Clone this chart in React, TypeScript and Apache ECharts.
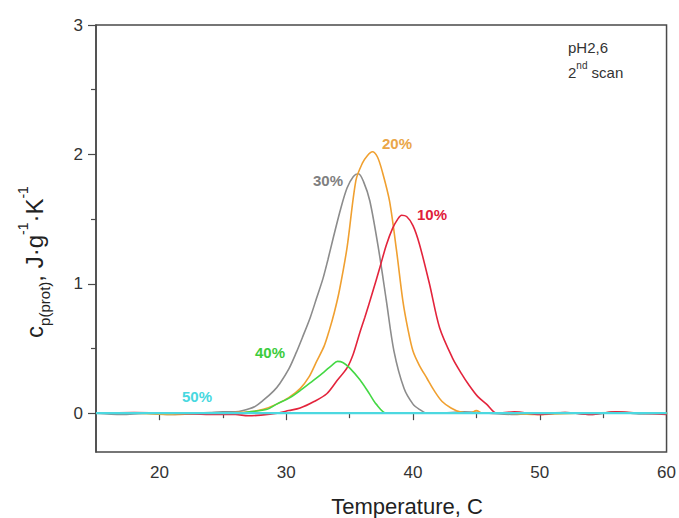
import React, { useEffect, useRef } from "react";
import * as echarts from "echarts";

const xMajorTicks = [20, 30, 40, 50, 60];
const xMinorTicks = [25, 35, 45, 55];
const yMajorTicks = [0, 1, 2, 3];
const yMinorTicks = [0.5, 1.5, 2.5];

const grayT = [15, 17, 19, 21, 23, 24, 25, 26, 26.6, 27.5, 28.2, 29, 29.5, 30.2, 30.8, 31.3, 31.9, 32.4, 32.9, 33.3, 33.7, 34.3, 34.8, 35.3, 35.7, 36.1, 36.6, 37.3, 37.9, 38.5, 39.3, 40, 40.5, 41.1, 42, 44, 46, 48, 50, 52, 54, 56, 58, 60];
const grayCp = [0, -0.01, 0, -0.01, 0, 0.005, 0.01, 0.01, 0.02, 0.05, 0.1, 0.17, 0.23, 0.34, 0.47, 0.59, 0.74, 0.89, 1.04, 1.19, 1.35, 1.58, 1.74, 1.83, 1.85, 1.79, 1.64, 1.26, 0.87, 0.48, 0.19, 0.07, 0.03, 0.0, 0, 0.01, 0, -0.01, 0, 0.005, -0.01, 0.01, -0.005, 0];

const orangeT = [15, 18, 21, 24, 25, 26, 27.1, 28.2, 29.25, 30.2, 31.1, 31.8, 32.4, 33.0, 33.4, 33.8, 34.2, 34.8, 35.5, 36.0, 36.4, 36.8, 37.2, 37.6, 38.15, 38.7, 39.2, 39.6, 40, 40.5, 41.1, 41.7, 42.3, 43, 43.7, 44.5, 45, 45.5, 47, 50, 53, 56, 60];
const orangeCp = [0, 0, -0.01, 0, 0, 0.005, 0.01, 0.03, 0.07, 0.12, 0.19, 0.28, 0.4, 0.52, 0.64, 0.78, 0.95, 1.28, 1.8, 1.93, 1.99, 2.02, 1.98, 1.86, 1.64, 1.26, 0.87, 0.65, 0.48, 0.37, 0.27, 0.17, 0.09, 0.04, 0.01, 0, 0.02, 0, 0, -0.01, 0, 0.005, 0];

const redT = [15, 18, 21, 24, 26, 27, 28, 29.3, 30.2, 31.1, 32.2, 33.2, 34, 34.8, 35.3, 35.8, 36.2, 36.8, 37.4, 37.9, 38.4, 38.8, 39.1, 39.5, 40, 40.5, 41.3, 42.1, 43.1, 43.8, 44.4, 45.1, 45.8, 46.6, 48, 50, 52, 54, 56, 58, 60];
const redCp = [0, 0.005, 0, -0.01, -0.01, -0.02, -0.015, 0, 0.02, 0.04, 0.09, 0.15, 0.25, 0.35, 0.46, 0.62, 0.74, 0.93, 1.13, 1.3, 1.43, 1.5, 1.53, 1.52, 1.45, 1.31, 1.0, 0.66, 0.43, 0.31, 0.22, 0.13, 0.07, 0, 0.01, -0.01, 0.005, -0.01, 0.01, 0, -0.01];

const greenT = [15, 18, 21, 24, 26.3, 27.1, 28.5, 29.25, 30.3, 31.05, 32.1, 33, 33.6, 34.05, 34.5, 35, 35.8, 36.5, 37.1, 37.9, 40, 45, 50, 55, 60];
const greenCp = [0, 0, 0, 0, 0, 0.01, 0.03, 0.07, 0.12, 0.17, 0.25, 0.32, 0.37, 0.4, 0.39, 0.35, 0.26, 0.16, 0.07, 0, 0, 0, 0, 0, 0];

const cyanT = [15, 60];
const cyanCp = [0, 0];

const seriesNames = ["10%", "20%", "30%", "40%", "50%"];

const pair = (t: number[], v: number[]) => t.map((x, i) => [x, v[i]]);

export default function App() {
  const ref = useRef<HTMLDivElement>(null);
  useEffect(() => {
    if (!ref.current) return;
    const chart = echarts.init(ref.current, undefined, { renderer: "svg" });
    const axisColor = "#4a4a4a";
    const font = "Liberation Sans, Arial, sans-serif";
    const mkLine = (name: string, data: number[][], color: string, width: number) => ({
      name,
      type: "line",
      data,
      showSymbol: false,
      smooth: 0.3,
      lineStyle: { color, width },
      itemStyle: { color },
      xAxisIndex: 0,
      yAxisIndex: 0,
    });
    const label = (text: string, x: number, y: number, color: string) => ({
      type: "text",
      x,
      y,
      style: { text, fill: color, font: `bold 15px ${font}`, align: "center", verticalAlign: "middle" },
    });
    chart.setOption({
      animation: false,
      backgroundColor: "#ffffff",
      grid: { left: 96, right: 11, top: 25, bottom: 66, show: true, borderColor: axisColor, borderWidth: 1.5, backgroundColor: "transparent" },
      xAxis: [
        {
          type: "value", min: 15, max: 60,
          axisLine: { show: true, lineStyle: { color: axisColor, width: 1.5 } },
          axisTick: { show: true, length: 7, customValues: xMajorTicks, lineStyle: { color: axisColor, width: 1.2 } },
          axisLabel: { customValues: xMajorTicks, color: "#333", fontSize: 17, fontFamily: font, margin: 12 },
          splitLine: { show: false },
        },
        {
          type: "value", min: 15, max: 60, position: "bottom",
          axisLine: { show: false },
          axisTick: { show: true, length: 5, customValues: xMinorTicks, lineStyle: { color: axisColor, width: 1.2 } },
          axisLabel: { show: false },
          splitLine: { show: false },
        },
      ],
      yAxis: [
        {
          type: "value", min: -0.3, max: 3,
          axisLine: { show: true, lineStyle: { color: axisColor, width: 1.5 } },
          axisTick: { show: true, length: 8, customValues: yMajorTicks, lineStyle: { color: axisColor, width: 1.2 } },
          axisLabel: { customValues: yMajorTicks, color: "#333", fontSize: 17, fontFamily: font, margin: 13 },
          splitLine: { show: false },
        },
        {
          type: "value", min: -0.3, max: 3, position: "left",
          axisLine: { show: false },
          axisTick: { show: true, length: 5, customValues: yMinorTicks, lineStyle: { color: axisColor, width: 1.2 } },
          axisLabel: { show: false },
          splitLine: { show: false },
        },
      ],
      series: [
        mkLine(seriesNames[2], pair(grayT, grayCp), "#8c8c8c", 1.6),
        mkLine(seriesNames[1], pair(orangeT, orangeCp), "#f0a030", 1.6),
        mkLine(seriesNames[0], pair(redT, redCp), "#e3243c", 1.6),
        mkLine(seriesNames[3], pair(greenT, greenCp), "#44d844", 1.6),
        mkLine(seriesNames[4], pair(cyanT, cyanCp), "#4cd8e0", 2.2),
      ],
      graphic: [
        label("30%", 328, 180, "#7f7f7f"),
        label("20%", 397, 143, "#eaa648"),
        label("10%", 432, 214, "#e0203a"),
        label("40%", 270, 352, "#3ccc3c"),
        label("50%", 197, 396, "#48d8e0"),
        {
          type: "text", x: 568, y: 40,
          style: { text: "pH2,6", fill: "#333", font: `15px ${font}` },
        },
        {
          type: "text", x: 568, y: 60,
          style: {
            text: "{a|2}{s|nd}{a| scan}",
            rich: {
              a: { fill: "#333", fontSize: 15, fontFamily: font, verticalAlign: "bottom", lineHeight: 20 },
              s: { fill: "#333", fontSize: 10, fontFamily: font, verticalAlign: "top", lineHeight: 20 },
            },
          },
        },
        {
          type: "text", x: 407, y: 506,
          style: { text: "Temperature, C", fill: "#222", font: `22px ${font}`, align: "center", verticalAlign: "middle" },
        },
        {
          type: "text", x: 34, y: 262, rotation: Math.PI / 2,
          style: {
            text: "{m|c}{sub|p(prot)}{m|, J·g}{sup|-1}{m|·K}{sup|-1}",
            align: "center", verticalAlign: "middle",
            rich: {
              m: { fill: "#222", fontSize: 24, fontFamily: font, verticalAlign: "middle", lineHeight: 36 },
              sub: { fill: "#222", fontSize: 15, fontFamily: font, verticalAlign: "bottom", lineHeight: 36 },
              sup: { fill: "#222", fontSize: 14, fontFamily: font, verticalAlign: "top", lineHeight: 36 },
            },
          },
        },
      ],
    });
    return () => chart.dispose();
  }, []);
  return <div ref={ref} style={{ width: 679, height: 518, position: "absolute", left: 0, top: 0 }} />;
}
